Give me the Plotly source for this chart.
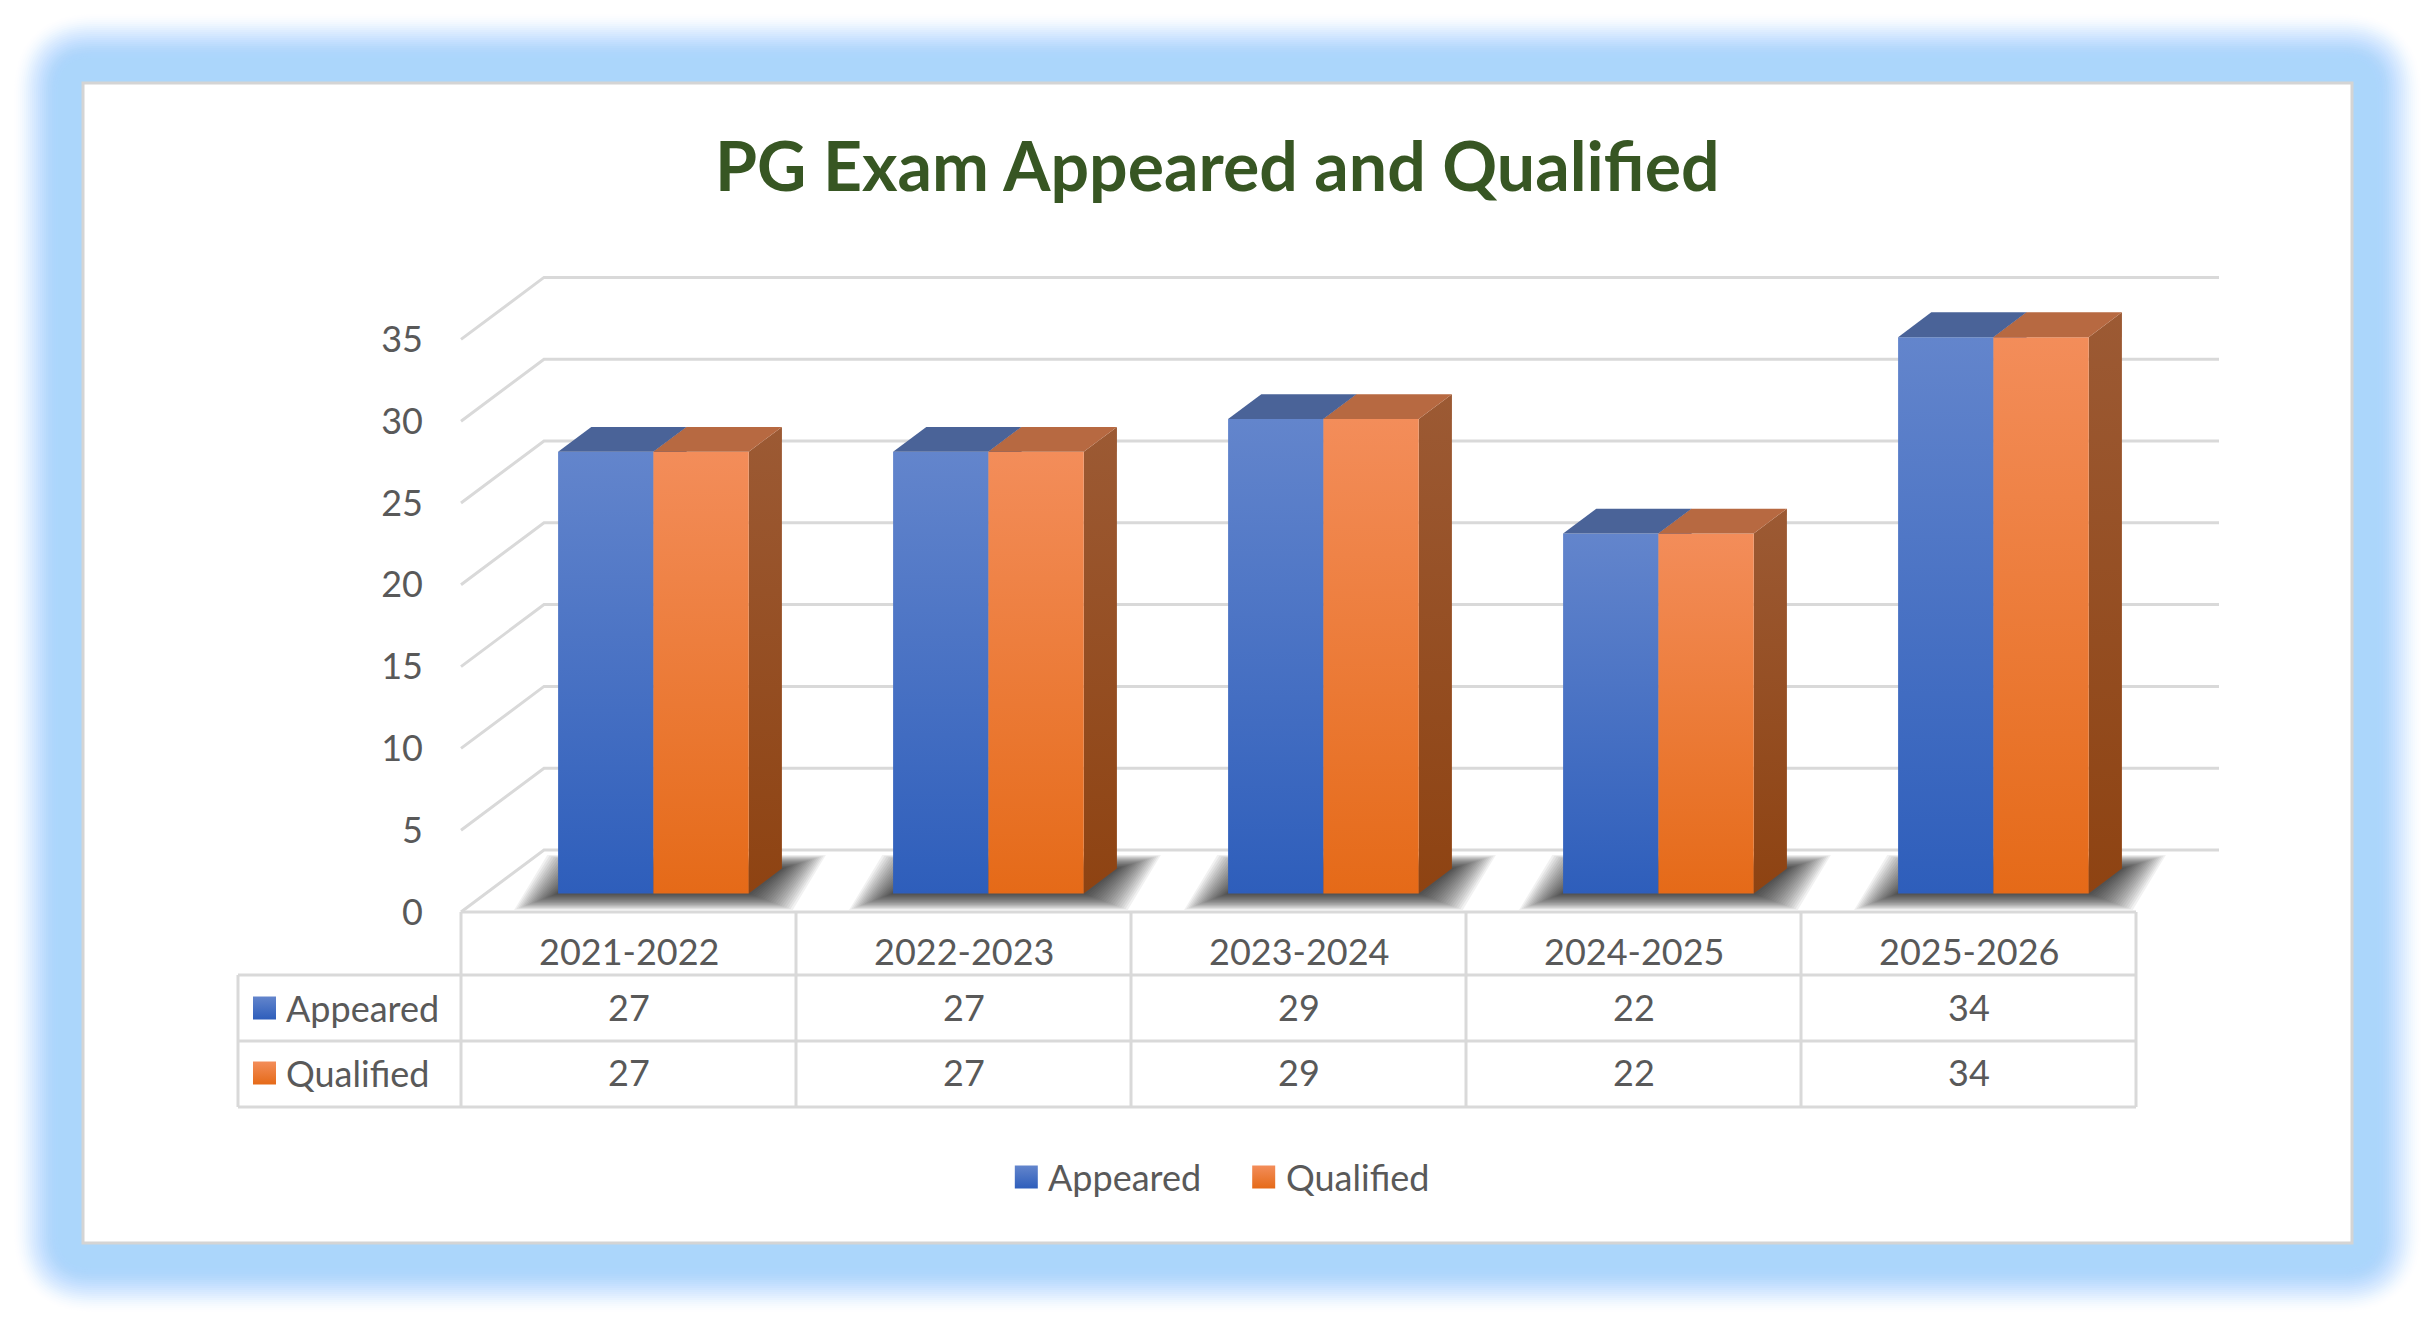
import plotly.graph_objects as go

# chart data
years = ["2021-2022", "2022-2023", "2023-2024", "2024-2025", "2025-2026"]
appeared = [27, 27, 29, 22, 34]
qualified = [27, 27, 29, 22, 34]
series_names = ["Appeared", "Qualified"]
y_ticks = [0, 5, 10, 15, 20, 25, 30, 35]
title_text = "PG Exam Appeared and Qualified"

W, H = 2435, 1326
FONT = "Lato"
TXT = "#595959"
GRID = "#D9D9D9"

# fake 3d projection: the axes cover the whole page, front-left floor corner at (461, 912) px
PX_CAT = 335.0
PX_VAL = 16.36
X0, Y0 = 461.0, 912.0
x_range = [-0.5 - X0 / PX_CAT, -0.5 + (W - X0) / PX_CAT]
y_range = [-(H - Y0) / PX_VAL, Y0 / PX_VAL]
DX = 83 / PX_CAT      # floor depth along x (category units)
DY = 62 / PX_VAL      # floor depth along y (value units)
F0, F1 = 0.3, 0.7     # bar front / back depth
BW = 0.2845           # bar width


def px_x(p):
    return -0.5 + (p - X0) / PX_CAT


def px_y(p):
    return (Y0 - p) / PX_VAL


# colours per series: front top, front bottom, top face, side top, side bottom
styles = {
    "Appeared": dict(ft="#6385CC", fb="#2E5EBB", top="#4A6398", st="#3B5A9C", sb="#2A4C8C"),
    "Qualified": dict(ft="#F38D5A", fb="#E56A18", top="#B76941", st="#9C5A34", sb="#8E4312"),
}

fig = go.Figure()

# walls: back wall gridlines + left wall diagonals
gx, gy = [], []
for v in y_ticks:
    gx += [-0.5, -0.5 + DX, 4.5 + DX, None]
    gy += [v, v + DY, v + DY, None]
fig.add_trace(go.Scatter(x=gx, y=gy, mode="lines", line=dict(color=GRID, width=3),
                         hoverinfo="skip", showlegend=False))


def poly(xs, ys, **kw):
    fig.add_trace(go.Scatter(x=xs + [xs[0]], y=ys + [ys[0]], mode="lines", fill="toself",
                             line=dict(width=0), hoverinfo="skip", showlegend=False, **kw))


series_vals = [appeared, qualified]
for i in range(len(years)):
    # soft floor shadow under the bar pair (stacked, growing footprints)
    xl, xr = i - BW, i + BW
    for k in range(20, 0, -1):
        ex = k * 2.2 / PX_CAT
        ey = k * 0.75 / PX_VAL
        poly([xl + F0 * DX - ex, xr + F0 * DX + ex, xr + F1 * DX + ex, xl + F1 * DX - ex],
             [F0 * DY - ey * 1.1, F0 * DY - ey * 1.1, F1 * DY + ey * 0.9, F1 * DY + ey * 0.9],
             fillcolor="rgba(20,20,20,0.06)")
    for s, name in enumerate(series_names):
        v = series_vals[s][i]
        st = styles[name]
        a = i - BW if s == 0 else i
        b = a + BW
        # side
        poly([b + F0 * DX, b + F1 * DX, b + F1 * DX, b + F0 * DX],
             [F0 * DY, F1 * DY, v + F1 * DY, v + F0 * DY],
             fillgradient=dict(type="vertical", colorscale=[[0, st["sb"]], [1, st["st"]]]))
        # front
        poly([a + F0 * DX, b + F0 * DX, b + F0 * DX, a + F0 * DX],
             [F0 * DY, F0 * DY, v + F0 * DY, v + F0 * DY],
             fillgradient=dict(type="vertical", colorscale=[[0, st["fb"]], [1, st["ft"]]]))
        # top
        poly([a + F0 * DX, b + F0 * DX, b + F1 * DX, a + F1 * DX],
             [v + F0 * DY, v + F0 * DY, v + F1 * DY, v + F1 * DY],
             fillcolor=st["top"])

# data table under the plot
row_lines = [px_y(912), px_y(975), px_y(1041), px_y(1107)]
t_left = px_x(238)
shapes = []
line_style = dict(color=GRID, width=3)
shapes.append(dict(type="line", xref="x", yref="y", x0=-0.5, x1=len(years) - 0.5,
                   y0=row_lines[0], y1=row_lines[0], line=line_style))
for ry in row_lines[1:]:
    shapes.append(dict(type="line", xref="x", yref="y", x0=t_left, x1=len(years) - 0.5,
                       y0=ry, y1=ry, line=line_style))
shapes.append(dict(type="line", xref="x", yref="y", x0=t_left, x1=t_left,
                   y0=row_lines[1], y1=row_lines[3], line=line_style))
for k in range(len(years) + 1):
    shapes.append(dict(type="line", xref="x", yref="y", x0=k - 0.5, x1=k - 0.5,
                       y0=row_lines[0], y1=row_lines[3], line=line_style))

annotations = []
tfont = dict(family=FONT, size=36, color=TXT)
for i, yr in enumerate(years):
    annotations.append(dict(x=i, y=px_y(951), xref="x", yref="y", text=yr, showarrow=False,
                            font=tfont, xanchor="center", yanchor="middle"))
    for r, vals in enumerate(series_vals):
        annotations.append(dict(x=i, y=px_y(1007 + 65 * r), xref="x", yref="y", text=str(vals[i]),
                                showarrow=False, font=tfont, xanchor="center", yanchor="middle"))

# row label keys + legend keys
key_pos = [
    (px_x(264.5), px_y(1008), px_x(284)),
    (px_x(264.5), px_y(1073), px_x(284)),
]
legend_pos = [
    (px_x(1026.3), px_y(1177), px_x(1046)),
    (px_x(1263.7), px_y(1177), px_x(1283.5)),
]
for s, name in enumerate(series_names):
    st = styles[name]
    for (kx, ky, tx) in (key_pos[s], legend_pos[s]):
        fig.add_trace(go.Scatter(x=[kx], y=[ky], mode="markers",
                                 marker=dict(symbol="square", size=23, color=st["ft"], line=dict(width=0),
                                             gradient=dict(type="vertical", color=st["fb"])),
                                 hoverinfo="skip", showlegend=False))
        annotations.append(dict(x=tx, y=ky, xref="x", yref="y", text=name, showarrow=False,
                                font=tfont, xanchor="left", yanchor="middle"))

annotations.append(dict(x=0.5, y=1 - 164 / H, xref="paper", yref="paper", text="<b>" + title_text + "</b>",
                        showarrow=False, font=dict(family=FONT, size=68, color="#375623"),
                        xanchor="center", yanchor="middle"))


# blue glow frame around the white chart panel
def rrect(x0, y0, x1, y1, r):
    def P(px, py):
        return f"{px / W:.5f},{1 - py / H:.5f}"
    return (f"M {P(x0 + r, y0)} L {P(x1 - r, y0)} Q {P(x1, y0)} {P(x1, y0 + r)} "
            f"L {P(x1, y1 - r)} Q {P(x1, y1)} {P(x1 - r, y1)} L {P(x0 + r, y1)} "
            f"Q {P(x0, y1)} {P(x0, y1 - r)} L {P(x0, y0 + r)} Q {P(x0, y0)} {P(x0 + r, y0)} Z")


glow = []
prev = 0.0
for k in range(28):
    d = 8 + k * 2
    s = min(max((d - 10) / 48.0, 0.0), 1.0)
    target = 0.98 * s * s * (3 - 2 * s)
    alpha = max((target - prev) / (1 - prev), 0.0)
    prev = max(prev, target)
    r = (83 - d) * 1.1 + 6
    glow.append(dict(type="path", xref="paper", yref="paper", path=rrect(d, d, W - d, H - d, r),
                     fillcolor=f"rgba(170,213,252,{alpha:.4f})", line=dict(width=0), layer="below"))
glow.append(dict(type="rect", xref="paper", yref="paper", x0=83 / W, x1=1 - 83 / W,
                 y0=83 / H, y1=1 - 83 / H, fillcolor="white",
                 line=dict(color="#D4D4D4", width=3), layer="below"))

fig.update_layout(
    width=W, height=H,
    margin=dict(l=0, r=0, t=0, b=0),
    paper_bgcolor="white",
    plot_bgcolor="rgba(0,0,0,0)",
    showlegend=False,
    shapes=glow + shapes,
    annotations=annotations,
    xaxis=dict(range=x_range, visible=False, fixedrange=True),
    yaxis=dict(range=y_range, tickvals=y_ticks, anchor="free", position=423 / W, side="left",
               showgrid=False, zeroline=False, showline=False, ticks="",
               tickfont=dict(family=FONT, size=36, color=TXT), fixedrange=True),
)

fig.write_html("out.html", config={"displayModeBar": False},
               post_script="document.body.style.margin='0';")
